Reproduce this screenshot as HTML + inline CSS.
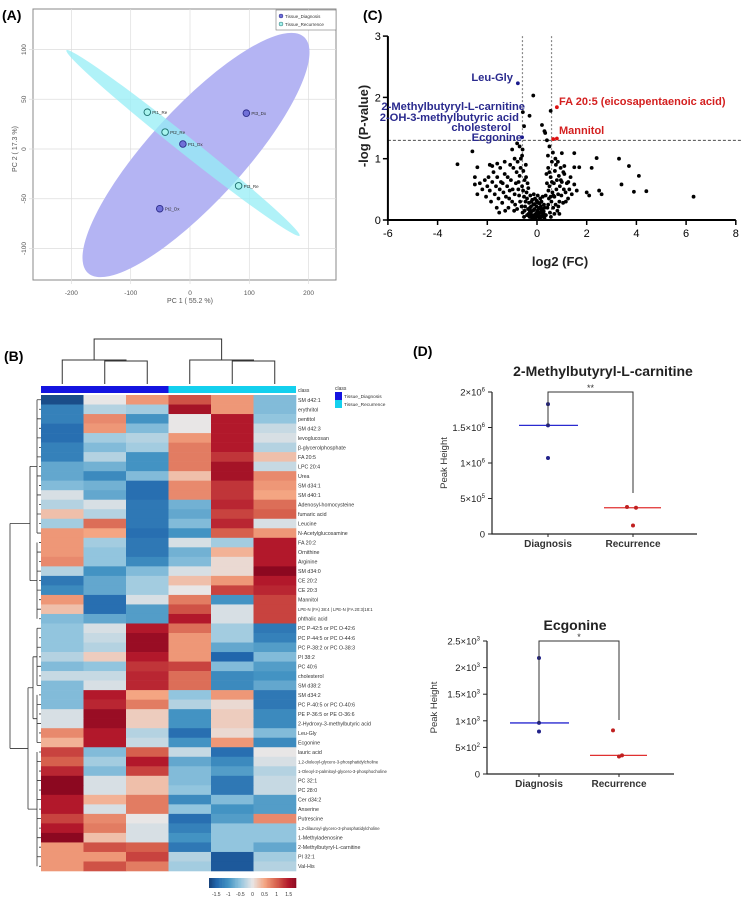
<!DOCTYPE html>
<html><head><meta charset="utf-8"><style>
html,body{margin:0;padding:0;background:#fff;}
svg{display:block;font-family:"Liberation Sans",Arial,sans-serif;}
</style></head><body>
<svg id="fig" width="745" height="900" viewBox="0 0 745 900" xmlns="http://www.w3.org/2000/svg">
<g id="pA"></g>
<g id="pB"></g>
<g id="pC"></g>
<g id="pD"></g>
</svg>
<script>
// ---------- PCA data ----------
const pcaNames = ["Pt1_Re","Pt2_Re","Pt1_Dx","Pt3_Dx","Pt3_Re","Pt2_Dx"];
const pcaPC1 = [-72,-42,-12,95,82,-51];
const pcaPC2 = [37,17,5,36,-37,-60];
const pcaGroup = ["Re","Re","Dx","Dx","Re","Dx"];
const pcaXTicks = [-200,-100,0,100,200];
const pcaYTicks = [100,50,0,-50,-100];

// ---------- Heatmap data ----------
const hmRows = ["SM d42:1","erythritol","pentitol","SM d42:3","levoglucosan","β-glycerolphosphate","FA 20:5","LPC 20:4","Urea","SM d34:1","SM d40:1","Adenosyl-homocysteine","fumaric acid","Leucine","N-Acetylglucosamine","FA 20:2","Ornithine","Arginine","SM d34:0","CE 20:2","CE 20:3","Mannitol","LPE-N (FA) 38:4 | LPE-N (FA 20:3)18:1","phthalic acid","PC P-42:5 or PC O-42:6","PC P-44:5 or PC O-44:6","PC P-38:2 or PC O-38:3","PI 38:2","PC 40:6","cholesterol","SM d38:2","SM d34:2","PC P-40:5 or PC O-40:6","PE P-36:5 or PE O-36:6","2-Hydroxy-3-methylbutyric acid","Leu-Gly","Ecgonine","lauric acid","1,2-dioleoyl-glycero-3-phosphatidylcholine","1-Oleoyl-2-palmitoyl-glycero-3-phosphocholine","PC 32:1","PC 28:0","Cer d34:2","Anserine","Putrescine","1,2-dilauroyl-glycero-3-phosphatidylcholine","1-Methyladenosine","2-Methylbutyryl-L-carnitine","PI 32:1","Val-His"];
const hmValues = [
[-1.7,0,0.6,1.1,0.6,-0.6],[-1.2,-0.3,-0.4,1.6,0.6,-0.6],[-1.2,0.7,-1.0,0,1.5,-0.5],[-1.4,0.6,-0.6,0,1.5,-0.2],
[-1.4,-0.4,-0.3,0.6,1.5,-0.1],[-1.2,-0.6,-0.4,0.8,1.5,-0.3],[-1.2,-0.3,-1.0,0.8,1.3,0.3],[-0.8,-0.7,-1.0,0.8,1.6,-0.2],
[-0.8,-1.1,-0.6,0.3,1.6,0.7],[-0.6,-0.7,-1.4,0.7,1.3,0.6],[-0.1,-0.8,-1.4,0.7,1.3,0.5],[-0.3,-0.1,-1.3,-0.7,1.4,0.9],
[0.3,-0.3,-1.3,-0.8,1.2,1.0],[-0.4,0.9,-1.3,-0.6,1.4,-0.1],[0.6,0.5,-1.4,-1.0,1.0,0.6],[0.6,-0.4,-1.3,-0.1,-0.4,1.5],
[0.6,-0.5,-1.3,-0.7,0.4,1.5],[0.7,-0.5,-1.1,-0.6,0.1,1.5],[-0.3,-1.0,-0.6,-0.1,0.1,1.8],[-1.3,-0.8,-0.4,0.3,0.6,1.5],
[-1.1,-0.8,-0.4,0,1.2,1.4],[0.6,-1.4,-0.1,0.8,-1.0,1.2],[0.3,-1.4,-0.9,1.1,-0.1,1.2],[-0.6,-0.8,-0.9,1.5,-0.1,1.2],
[-0.5,-0.1,1.5,0.9,-0.4,-1.3],[-0.5,-0.2,1.7,0.6,-0.4,-1.2],[-0.5,-0.3,1.7,0.6,-0.8,-0.9],[-0.3,0.2,1.5,0.6,-1.5,-0.6],
[-0.6,-0.5,1.3,1.2,-0.6,-0.9],[-0.2,-0.2,1.4,0.9,-1.1,-1.0],[-0.6,-0.1,1.4,0.9,-1.1,-0.8],[-0.6,1.5,0.5,-0.5,0.6,-1.3],
[-0.6,1.4,0.8,-0.3,0.1,-1.3],[-0.1,1.7,0.2,-1.0,0.2,-1.1],[-0.1,1.7,0.2,-1.0,0.2,-1.1],[0.7,1.5,-0.3,-1.4,0.1,-0.6],
[0.4,1.5,-0.2,-1.0,0.6,-1.1],[1.2,-0.6,1.0,-0.2,-1.4,0],[1.0,-0.4,1.5,-0.8,-1.1,-0.1],[1.4,-0.6,1.2,-0.6,-0.9,-0.3],
[1.8,-0.1,0.3,-0.6,-1.3,-0.2],[1.8,-0.1,0.3,-0.5,-1.3,-0.2],[1.5,0.4,0.8,-1.1,-0.6,-0.9],[1.5,-0.1,0.8,-0.5,-1.0,-0.9],
[1.2,0.7,0,-1.4,-0.9,0.7],[1.5,0.8,-0.1,-1.2,-0.5,-0.5],[1.8,0.3,-0.1,-1.0,-0.5,-0.5],[0.6,1.1,1.0,-1.3,-0.5,-0.8],
[0.6,0.6,1.2,-0.3,-1.6,-0.4],[0.6,1.1,0.8,-0.4,-1.6,-0.3]];
const hmCbTicks = ["-1.5","-1","-0.5","0","0.5","1","1.5"];
const hmClusters = [[0,14],[15,23],[24,30],[31,36],[37,49]];

// ---------- Volcano data ----------
const volFC = [-2.3,-2.2,-2.1,-2.0,-1.9,-1.8,-1.7,-1.65,-1.6,-1.55,-1.5,-1.45,-1.4,-1.35,-1.3,-1.25,-1.2,-1.15,-1.1,-1.05,-1.0,-0.95,-0.9,-0.85,-0.8,-0.78,-0.75,-0.7,-0.68,-0.65,-0.6,-0.58,-0.55,-0.52,-0.5,-0.48,-0.45,-0.42,-0.4,-0.38,-2.4,-2.05,-1.85,-1.75,-1.62,-1.48,-1.38,-1.28,-1.18,-1.08,-0.98,-0.88,-0.82,-0.72,-0.62,-0.58,-0.52,-0.46,-0.44,-0.36,-1.95,-1.52,-1.12,-0.92,-0.74,-0.66,-0.56,-0.5,-0.4,-0.35,-1.0,-0.9,-0.8,-0.7,-0.6,-1.3,-1.6,
-0.3,-0.28,-0.25,-0.22,-0.2,-0.18,-0.15,-0.12,-0.1,-0.08,-0.05,-0.02,0,0.02,0.05,0.08,0.1,0.12,0.15,0.18,0.2,0.22,0.25,0.28,0.3,-0.32,-0.27,-0.17,-0.13,-0.07,-0.03,0.03,0.07,0.13,0.17,0.23,0.27,-0.24,-0.14,-0.04,0.06,0.16,0.26,-0.34,-0.19,-0.09,0.01,0.11,0.21,0.31,-0.29,-0.21,-0.11,-0.01,0.09,0.19,0.29,
0.35,0.4,0.42,0.45,0.48,0.5,0.52,0.55,0.58,0.6,0.62,0.65,0.68,0.7,0.72,0.75,0.78,0.8,0.82,0.85,0.88,0.9,0.92,0.95,0.98,1.0,1.05,1.08,1.1,1.15,1.2,1.25,1.3,1.35,1.4,1.5,1.6,0.38,0.44,0.5,0.4,0.3,0.2,0.36,0.46,0.56,0.66,0.76,0.86,0.96,1.06,1.16,1.26,0.55,0.7,0.9,0.6,0.64,0.74,0.84,0.45,0.5,
-3.2,-2.6,-2.4,-1.9,-1.8,-2.5,-2.5,2.4,3.3,3.7,4.1,3.4,3.9,4.4,6.3,2.2,2.0,2.5,2.1,2.6,1.5,1.0,1.7,1.5,1.1,
-0.77,-0.15,-0.57,-0.3,-0.52,-0.6,0.8,0.55,0.65,0.8,0.33];
const volP = [0.6,0.5,0.65,0.55,0.48,0.62,0.42,0.55,0.7,0.35,0.5,0.62,0.28,0.45,0.75,0.38,0.55,0.2,0.48,0.65,0.3,0.85,0.42,0.6,0.18,0.95,0.5,0.72,0.3,1.0,0.55,0.12,0.8,0.38,0.65,0.22,0.9,0.45,0.08,0.6,0.42,0.38,0.3,0.78,0.2,0.85,0.6,0.15,0.7,0.9,0.5,0.25,0.78,0.4,0.22,1.15,0.05,0.3,0.7,0.18,0.7,0.12,0.35,0.15,0.62,0.85,0.48,0.15,0.35,0.52,1.15,1.0,1.25,1.2,1.05,0.95,0.92,
0.05,0.2,0.12,0.3,0.02,0.15,0.25,0.08,0.18,0.35,0.1,0.22,0.05,0.15,0.28,0.08,0.2,0.02,0.12,0.3,0.06,0.18,0.1,0.25,0.03,0.28,0.4,0.05,0.42,0.02,0.32,0.4,0.18,0.35,0.05,0.38,0.14,0.22,0.16,0.06,0.12,0.22,0.05,0.1,0.33,0.26,0.3,0.27,0.12,0.2,0.15,0.08,0.04,0.12,0.04,0.16,0.09,
0.4,0.6,0.2,0.85,0.35,0.55,0.12,0.7,0.3,0.95,0.45,0.2,0.6,0.38,0.8,0.25,0.5,0.65,0.15,0.42,0.72,0.3,0.55,0.85,0.4,0.62,0.28,0.5,0.75,0.45,0.6,0.35,0.5,0.7,0.42,0.58,0.48,0.75,1.05,1.2,1.3,1.45,1.55,0.08,0.48,0.05,0.4,0.9,0.22,0.65,0.78,0.3,0.62,0.38,0.1,0.1,0.62,1.1,1.0,0.95,0.25,0.78,
0.91,1.12,0.86,0.9,0.88,0.7,0.58,1.01,1.0,0.88,0.72,0.58,0.46,0.47,0.38,0.85,0.45,0.48,0.4,0.42,1.09,1.09,0.86,0.86,0.88,
2.23,2.03,1.76,1.7,1.53,1.35,1.84,1.78,1.32,1.33,1.42];
const volHighlightBlue = [-0.77,-0.57,-0.52,-0.6];
const volXTicks = [-6,-4,-2,0,2,4,6,8];
const volYTicks = [0,1,2,3];

// ---------- Dot plot data ----------
const carnDx = [1.83e6,1.53e6,1.07e6];
const carnRe = [0.38e6,0.37e6,0.12e6];
const carnTicks = [0,5e5,1e6,1.5e6,2e6];
const carnTickLabels = [["0",""],["5×10","5"],["1×10","6"],["1.5×10","6"],["2×10","6"]];
const ecgDx = [2180,960,800];
const ecgRe = [820,350,330];
const ecgTicks = [0,500,1000,1500,2000,2500];
const ecgTickLabels = [["0",""],["5×10","2"],["1×10","3"],["1.5×10","3"],["2×10","3"],["2.5×10","3"]];

const NS="http://www.w3.org/2000/svg";
function mk(parent,tag,attrs,text){const e=document.createElementNS(NS,tag);for(const k in attrs)e.setAttribute(k,attrs[k]);if(text!==undefined)e.textContent=text;parent.appendChild(e);return e;}

// ================= PANEL A =================
(function(){
const g=document.getElementById('pA');
const xs=v=>190+v*0.593, ys=v=>149-v*0.995;
let t=mk(g,'text',{x:2,y:20,'font-size':14,'font-weight':'bold'},'(A)');


let fr=mk(g,'rect',{x:33,y:9,width:303,height:271,fill:'#fff',stroke:'#888','stroke-width':1});


pcaXTicks.forEach(v=>{
 let l=mk(g,'line',{x1:xs(v),x2:xs(v),y1:9,y2:284,stroke:'#ddd','stroke-width':0.7});
 
 
 let tl=mk(g,'text',{x:xs(v),y:295,'font-size':6.5,'text-anchor':'middle',fill:'#555'},String(v));
 
 
});
pcaYTicks.forEach(v=>{
 let l=mk(g,'line',{x1:29,x2:336,y1:ys(v),y2:ys(v),stroke:'#ddd','stroke-width':0.7});
 
 
 let tl=mk(g,'text',{x:26,y:ys(v),'font-size':6.5,'text-anchor':'middle',fill:'#555',transform:`rotate(-90 26 ${ys(v)})`},String(v));
 
 
});
let e1=mk(g,'ellipse',{cx:196,cy:155,rx:160,ry:47,fill:'#b4b4f3',transform:'rotate(-47.5 196 155)'});


let e2=mk(g,'ellipse',{cx:183,cy:143,rx:149,ry:8.5,fill:'#95eef6','fill-opacity':0.75,transform:'rotate(38.5 183 143)'});


pcaNames.forEach((n,i)=>{
 const dx=pcaGroup[i]==='Dx';
 let c=mk(g,'circle',{cx:xs(pcaPC1[i]),cy:ys(pcaPC2[i]),r:3.3,fill:dx?'#7070d8':'#a8f4ee',stroke:dx?'#2b2b8a':'#1b6f6f','stroke-width':0.9});
 
 
 let tl=mk(g,'text',{x:xs(pcaPC1[i])+5,y:ys(pcaPC2[i])+2,'font-size':4.5,fill:'#333'},n);
 
 
});
let xt=mk(g,'text',{x:190,y:303,'font-size':7,'text-anchor':'middle',fill:'#555'},'PC 1 ( 55.2 %)');


let yt=mk(g,'text',{x:17,y:149,'font-size':7,'text-anchor':'middle',fill:'#555',transform:'rotate(-90 17 149)'},'PC 2 ( 17.3 %)');


let lg=mk(g,'g',{});


mk(lg,'rect',{x:276,y:10,width:60,height:20,fill:'#fff',stroke:'#777','stroke-width':0.6});
mk(lg,'circle',{cx:281,cy:16,r:2,fill:'#7070d8',stroke:'#2b2b8a','stroke-width':0.5});
mk(lg,'text',{x:285,y:18,'font-size':4.5,fill:'#333'},'Tissue_Diagnosis');
mk(lg,'circle',{cx:281,cy:24,r:2,fill:'#a8f4ee',stroke:'#1b6f6f','stroke-width':0.5});
mk(lg,'text',{x:285,y:26,'font-size':4.5,fill:'#333'},'Tissue_Recurrence');
})();

// ================= PANEL B =================
(function(){
const g=document.getElementById('pB');
const x0=41,cw=42.5,y0=395,rh=9.52;
const stops=[[-1.8,[22,64,120]],[-1.5,[33,102,172]],[-1,[67,147,195]],[-0.5,[146,197,222]],[0,[232,230,230]],[0.5,[244,165,130]],[1,[214,96,77]],[1.5,[178,24,43]],[1.8,[140,8,32]]];
function col(v){v=Math.max(-1.8,Math.min(1.8,v));for(let i=0;i<stops.length-1;i++){const a=stops[i],b=stops[i+1];if(v<=b[0]){const f=(v-a[0])/(b[0]-a[0]);const c=a[1].map((q,k)=>Math.round(q+(b[1][k]-q)*f));return `rgb(${c})`;}}return 'rgb(140,8,32)';}
let t=mk(g,'text',{x:4,y:361,'font-size':14,'font-weight':'bold'},'(B)');


// top dendrogram
const cx=i=>x0+cw*(i+0.5);
const topD=mk(g,'g',{stroke:'#333','stroke-width':1,fill:'none'});


const l23=(cx(1)+cx(2))/2, lAll=(cx(0)+l23)/2, r56=(cx(4)+cx(5))/2, rAll=(cx(3)+r56)/2;
mk(topD,'path',{d:`M${cx(1)} 384V361H${cx(2)}V384 M${cx(0)} 384V360H${l23}V361 M${cx(4)} 384V361H${cx(5)}V384 M${cx(3)} 384V360H${r56}V361 M${lAll} 360V339H${rAll}V360`});
// class bar
let cb1=mk(g,'rect',{x:x0,y:386,width:cw*3,height:7,fill:'#1414e0'});


let cb2=mk(g,'rect',{x:x0+cw*3,y:386,width:cw*3,height:7,fill:'#14d0ee'});


mk(g,'text',{x:298,y:392,'font-size':5,fill:'#333'},'class');
// cells
hmValues.forEach((row,r)=>{
 row.forEach((v,c)=>{
  let rc=mk(g,'rect',{x:x0+cw*c,y:y0+rh*r,width:cw+0.3,height:rh+0.3,fill:col(v)});
  
  
 });
 let tl=mk(g,'text',{x:298,y:y0+rh*r+rh/2+2,'font-size':r===22||r===39||r===38||r===45?4.3:5.3,fill:'#333'},hmRows[r]);
 
 
});
// left dendrogram
const ry=i=>y0+rh*(i+0.5);
const lD=mk(g,'g',{stroke:'#333','stroke-width':0.8,fill:'none'});


const cmid=[];
hmClusters.forEach(([a,b])=>{
 let d=`M37 ${ry(a)}V${ry(b)}`;
 for(let i=a;i<=b;i++)d+=` M${i%2?39:37} ${ry(i)}H41`;
 mk(lD,'path',{d});
 cmid.push((ry(a)+ry(b))/2);
});
const ab=(cmid[0]+cmid[1])/2, cd=(cmid[2]+cmid[3])/2, cde=(cd+cmid[4])/2;
mk(lD,'path',{d:`M37 ${cmid[0]}H30 M37 ${cmid[1]}H30 M30 ${cmid[0]}V${cmid[1]} M37 ${cmid[2]}H33 M37 ${cmid[3]}H33 M33 ${cmid[2]}V${cmid[3]} M33 ${cd}H28 M37 ${cmid[4]}H28 M28 ${cd}V${cmid[4]} M30 ${ab}H10 M28 ${cde}H10 M10 ${ab}V${cde}`});
// legend
const lg=mk(g,'g',{});


mk(lg,'text',{x:335,y:390,'font-size':5,fill:'#333'},'class');
mk(lg,'rect',{x:335,y:392,width:7,height:8,fill:'#1414e0'});
mk(lg,'text',{x:344,y:398,'font-size':4.8,fill:'#333'},'Tissue_Diagnosis');
mk(lg,'rect',{x:335,y:400,width:7,height:8,fill:'#14d0ee'});
mk(lg,'text',{x:344,y:406,'font-size':4.8,fill:'#333'},'Tissue_Recurrence');
// colorbar
const cbar=mk(g,'g',{});


const cbx=209,cbw=87;
for(let i=0;i<60;i++){const v=-1.8+3.6*(i+0.5)/60;mk(cbar,'rect',{x:cbx+cbw*i/60,y:878,width:cbw/60+0.3,height:10,fill:col(v)});}
hmCbTicks.forEach((s,i)=>{const v=parseFloat(s);mk(cbar,'text',{x:cbx+cbw*(v+1.8)/3.6,y:896,'font-size':5,'text-anchor':'middle',fill:'#333'},s);});
})();

// ================= PANEL C =================
(function(){
const g=document.getElementById('pC');
const xs=v=>537+v*24.85, ys=v=>220-v*61.3;
let t=mk(g,'text',{x:363,y:20,'font-size':14,'font-weight':'bold'},'(C)');


// threshold lines
let th=mk(g,'line',{x1:xs(-6),x2:742,y1:ys(1.3),y2:ys(1.3),stroke:'#333','stroke-width':0.8,'stroke-dasharray':'3,2'});


[-0.585,0.585].forEach(v=>{
 let l=mk(g,'line',{x1:xs(v),x2:xs(v),y1:ys(3),y2:ys(0),stroke:'#888','stroke-width':1.2,'stroke-dasharray':'2,2'});
 
 
});
// points
volFC.forEach((fc,i)=>{
 const p=volP[i];
 let color='#000';
 if(p>1.3&&fc<-0.585)color='#1a1a8c';
 if(p>1.3&&fc>0.585)color='#d11';
 let c=mk(g,'circle',{cx:xs(fc),cy:ys(p),r:1.9,fill:color});
 
 
});
// axes
let ax=mk(g,'path',{d:`M${xs(-6)} ${ys(3)}V${ys(0)}H${xs(8)}`,stroke:'#000','stroke-width':2,fill:'none'});


volXTicks.forEach(v=>{
 mk(g,'line',{x1:xs(v),x2:xs(v),y1:ys(0),y2:ys(0)+5,stroke:'#000','stroke-width':1.5});
 let tl=mk(g,'text',{x:xs(v),y:237,'font-size':11,'text-anchor':'middle'},String(v));
 
 
});
volYTicks.forEach(v=>{
 mk(g,'line',{x1:xs(-6)-5,x2:xs(-6),y1:ys(v),y2:ys(v),stroke:'#000','stroke-width':1.5});
 let tl=mk(g,'text',{x:xs(-6)-7,y:ys(v)+4,'font-size':11,'text-anchor':'end'},String(v));
 
 
});
let xt=mk(g,'text',{x:560,y:266,'font-size':13,'font-weight':'bold','text-anchor':'middle',fill:'#222'},'log2 (FC)');


let yt=mk(g,'text',{x:368,y:126,'font-size':13,'font-weight':'bold','text-anchor':'middle',fill:'#222',transform:'rotate(-90 368 126)'},'-log (P-value)');


const blueLabels=[["Leu-Gly",513,81],["2-Methylbutyryl-L-carnitine",525,110],["2-OH-3-methylbutyric acid",519,121],["cholesterol",511,131],["Ecgonine",522,141]];
blueLabels.forEach(([s,x,y])=>{
 let tl=mk(g,'text',{x,y,'font-size':11.2,'font-weight':'bold','text-anchor':'end',fill:'#2a2a8e'},s);
 
 
});
[["FA 20:5 (eicosapentaenoic acid)",559,105],["Mannitol",559,134]].forEach(([s,x,y])=>{
 let tl=mk(g,'text',{x,y,'font-size':11,'font-weight':'bold',fill:'#d42020'},s);
 
 
});
})();

// ================= PANEL D =================
(function(){
const g=document.getElementById('pD');
let t=mk(g,'text',{x:413,y:356,'font-size':14,'font-weight':'bold'},'(D)');


function plot(o){
 const gg=mk(g,'g',{});
 
 
 const ys=v=>o.y0-(v/o.max)*(o.y0-o.y1);
 let tt=mk(gg,'text',{x:o.tx,y:o.ty,'font-size':14,'font-weight':'bold','text-anchor':'middle',fill:'#222'},o.title);
 
 
 mk(gg,'path',{d:`M${o.ax} ${o.y1}V${o.y0}H${o.axEnd}`,stroke:'#222','stroke-width':1.2,fill:'none'});
 o.ticks.forEach((v,i)=>{
  mk(gg,'line',{x1:o.ax-4,x2:o.ax,y1:ys(v),y2:ys(v),stroke:'#222','stroke-width':1});
  const tl=mk(gg,'text',{x:o.ax-7,y:ys(v)+3.5,'font-size':9.5,'text-anchor':'end',fill:'#222'});
  
  
  const a=mk(tl,'tspan',{},o.labels[i][0]);
  if(o.labels[i][1]){mk(tl,'tspan',{'font-size':6,dy:-4},o.labels[i][1]);}
 });
 [o.xd,o.xr].forEach(x=>mk(gg,'line',{x1:x,x2:x,y1:o.y0,y2:o.y0+3,stroke:'#222','stroke-width':1}));
 mk(gg,'text',{x:o.xd,y:o.y0+13,'font-size':10,'font-weight':'bold','text-anchor':'middle',fill:'#333'},'Diagnosis');
 mk(gg,'text',{x:o.xr,y:o.y0+13,'font-size':10,'font-weight':'bold','text-anchor':'middle',fill:'#333'},'Recurrence');
 let yl=mk(gg,'text',{x:o.yl,y:(o.y0+o.y1)/2,'font-size':9.5,'text-anchor':'middle',fill:'#333',transform:`rotate(-90 ${o.yl} ${(o.y0+o.y1)/2})`},'Peak Height');
 
 
 const mdx=o.dx[1], mre=o.re[1];
 let m1=mk(gg,'line',{x1:o.xd-29,x2:o.xd+30,y1:ys(mdx),y2:ys(mdx),stroke:'#2a2ad0','stroke-width':1.3});
 
 
 let m2=mk(gg,'line',{x1:o.xr-29,x2:o.xr+28,y1:ys(mre),y2:ys(mre),stroke:'#e03030','stroke-width':1.3});
 
 
 o.dx.forEach(v=>{let c=mk(gg,'circle',{cx:o.xd,cy:ys(v),r:2,fill:'#22228a'});});
 const off=[-6,3,0];
 o.re.forEach((v,i)=>{let c=mk(gg,'circle',{cx:o.xr+off[i],cy:ys(v),r:2,fill:'#c02020'});});
 let br=mk(gg,'path',{d:`M${o.xd} ${ys(mdx)}V${o.y1}H${o.xr}V${o.brEnd}`,stroke:'#333','stroke-width':1,fill:'none'});
 
 
 let st=mk(gg,'text',{x:(o.xd+o.xr)/2,y:o.y1-1,'font-size':9,'text-anchor':'middle',fill:'#333'},o.star);
 
 
}
plot({name:'carnitine-dotplot',title:'2-Methylbutyryl-L-carnitine',tx:603,ty:376,ax:492,axEnd:697,y0:534,y1:392,max:2e6,ticks:carnTicks,labels:carnTickLabels,xd:548,xr:633,yl:447,dx:carnDx,re:carnRe,brEnd:493,star:'**'});
plot({name:'ecgonine-dotplot',title:'Ecgonine',tx:575,ty:630,ax:487,axEnd:674,y0:774,y1:641,max:2500,ticks:ecgTicks,labels:ecgTickLabels,xd:539,xr:619,yl:437,dx:ecgDx,re:ecgRe,brEnd:720,star:'*'});
})();
</script>
</body></html>
